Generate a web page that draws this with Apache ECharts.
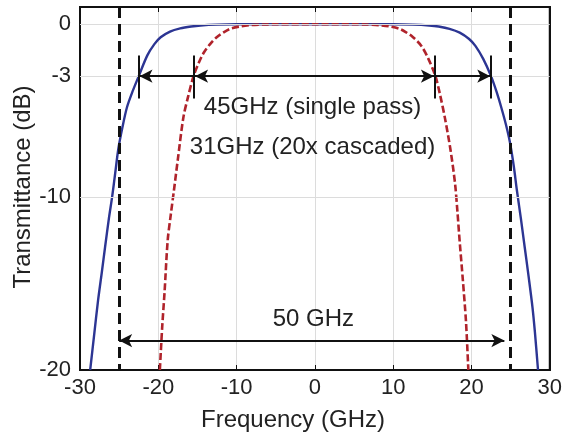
<!DOCTYPE html>
<html>
<head>
<meta charset="utf-8">
<script src="https://cdn.jsdelivr.net/npm/echarts@6/dist/echarts.min.js"></script>
<style>
html,body{margin:0;padding:0;background:#fff;}
#c{width:565px;height:436px;}
</style>
</head>
<body>
<div id="c"></div>
<script>
// ---- data ----
const xTicks = [-30, -20, -10, 0, 10, 20, 30];
const yTicks = [0, -3, -10, -20];
const yGrid = [0, -3, -10];

// single pass (blue, solid)
const blueX = [-28.7,-28.2,-27.7,-27.2,-26.8,-26.3,-25.9,-25.5,-25.1,-24.6,-24.0,-23.3,-22.5,-21.4,-20.5,-19.7,-18.5,-17.2,-15.8,-14.6,-12.5,-10.0,-5.0,0.0,5.0,10.0,12.5,14.6,15.8,17.2,18.5,19.7,20.5,21.5,22.5,23.2,23.8,24.4,24.9,25.4,25.8,26.3,26.8,27.3,27.8,28.1,28.5];
const blueY = [-20,-18.0,-16.0,-14.3,-12.9,-11.2,-10.0,-8.6,-7.2,-6.0,-4.8,-3.9,-3.0,-1.8,-1.15,-0.75,-0.42,-0.24,-0.13,-0.07,-0.02,0,0,0,0,0,-0.02,-0.07,-0.13,-0.26,-0.48,-0.85,-1.25,-2.0,-3.0,-3.9,-4.8,-5.8,-6.8,-8.2,-9.6,-11.2,-12.9,-14.6,-16.4,-17.8,-20];

// 20x cascaded (red, dashed)
const redX = [-19.8,-19.5,-19.2,-18.8,-18.4,-18.0,-17.5,-16.8,-16.2,-15.5,-14.8,-14.2,-13.3,-12.5,-11.6,-10.8,-9.5,-8.2,-6.5,-5.0,0,5.0,6.5,8.2,9.5,10.8,11.6,12.5,13.6,14.5,15.4,16.0,16.6,17.3,17.9,18.2,18.5,18.9,19.3,19.6];
const redY = [-20,-17.5,-15.5,-12.5,-11.0,-9.6,-7.8,-5.4,-4.2,-3.0,-2.2,-1.65,-1.1,-0.73,-0.45,-0.26,-0.12,-0.05,-0.01,0,0,0,-0.01,-0.05,-0.12,-0.26,-0.45,-0.73,-1.25,-2.0,-3.0,-4.1,-5.4,-7.2,-9.2,-10.8,-12.6,-14.8,-17.2,-20];

// annotation values
const edges50 = [-25, 25];          // dashed vertical lines (GHz)
const span50 = [-25, 24.2];         // 50 GHz arrow ends
const band45 = [-22.4, 22.4];       // single pass -3 dB width
const band31 = [-15.3, 15.2];       // cascaded -3 dB width
const bandTicks = [-22.5, -15.5, 15.3, 22.4];
const level3dB = -3;
const level50 = -18.3;
const texts = ['45GHz (single pass)', '31GHz (20x cascaded)', '50 GHz'];
const axisTitles = ['Frequency (GHz)', 'Transmittance (dB)'];

// ---- chart ----
const FONT = "'Liberation Sans', Arial, sans-serif";
const TXT = '#222';
const chart = echarts.init(document.getElementById('c'), null, {renderer: 'canvas'});

const blueData = blueX.map((x, i) => [x, blueY[i]]);
const redData = redX.map((x, i) => [x, redY[i]]);

const axLine = {show: true, onZero: false, lineStyle: {color: '#111', width: 2}};
const tick = {show: true, inside: true, length: 5, lineStyle: {color: '#111', width: 1}};

const option = {
  animation: false,
  backgroundColor: '#fff',
  grid: {left: 80, right: 15, top: 7, bottom: 66, show: true, borderColor: '#111', borderWidth: 2},
  xAxis: [
    {type: 'value', min: xTicks[0], max: xTicks[xTicks.length - 1], interval: 10, position: 'bottom',
     axisLine: axLine, axisTick: tick,
     axisLabel: {margin: 7, color: TXT, fontSize: 22, fontFamily: FONT},
     splitLine: {show: true, lineStyle: {color: '#dcdcdc', width: 1}}},
    {type: 'value', min: xTicks[0], max: xTicks[xTicks.length - 1], interval: 10, position: 'top',
     axisLine: axLine, axisTick: tick, axisLabel: {show: false}, splitLine: {show: false}}
  ],
  yAxis: [
    {type: 'value', min: -20, max: 1, position: 'left',
     axisLine: axLine, axisTick: Object.assign({customValues: yTicks}, tick),
     axisLabel: {customValues: yTicks, margin: 9, color: TXT, fontSize: 22, fontFamily: FONT},
     splitLine: {show: false}},
    {type: 'value', min: -20, max: 1, position: 'right',
     axisLine: axLine, axisTick: Object.assign({customValues: yTicks}, tick),
     axisLabel: {show: false}, splitLine: {show: false}}
  ],
  series: [
    {type: 'line', data: [], z: 1, silent: true,
     markLine: {silent: true, symbol: ['none', 'none'], label: {show: false},
       lineStyle: {color: '#dcdcdc', width: 1, type: 'solid'},
       emphasis: {disabled: true},
       data: yGrid.map(v => ({yAxis: v}))}},
    {type: 'line', name: 'single', data: blueData, showSymbol: false, smooth: 0.3, z: 3,
     lineStyle: {color: '#2c3593', width: 2.4}},
    {type: 'line', name: 'cascaded', data: redData, showSymbol: false, smooth: 0.3, z: 4,
     lineStyle: {color: '#b0232b', width: 2.6, type: [7, 3]}},
    {type: 'line', data: [], z: 5, silent: true,
     markLine: {silent: true, symbol: ['none', 'none'], label: {show: false},
       emphasis: {disabled: true},
       lineStyle: {color: '#111', width: 3, type: [11, 6]},
       data: edges50.map(x => [{coord: [x, 1]}, {coord: [x, -20]}])}},
    {type: 'line', data: [], z: 6, silent: true,
     markLine: {silent: true, symbol: ['arrow', 'arrow'], symbolSize: [10, 13], label: {show: false},
       emphasis: {disabled: true},
       lineStyle: {color: '#111', width: 2, type: 'solid'},
       data: [
         [{coord: [band45[0], level3dB]}, {coord: [band45[1], level3dB]}],
         [{coord: [band31[0], level3dB]}, {coord: [band31[1], level3dB]}],
         [{coord: [span50[0], level50]}, {coord: [span50[1], level50]}]
       ]}},
    {type: 'line', data: [], z: 6, silent: true,
     markLine: {silent: true, symbol: ['none', 'none'], label: {show: false},
       emphasis: {disabled: true},
       lineStyle: {color: '#111', width: 2, type: 'solid'},
       data: bandTicks.map(x => [{coord: [x, level3dB + 1.2]}, {coord: [x, level3dB - 1.3]}])}}
  ]
};
chart.setOption(option);

const p1 = chart.convertToPixel({gridIndex: 0}, [-0.3, -4.8]);
const p2 = chart.convertToPixel({gridIndex: 0}, [-0.3, -7.1]);
const p3 = chart.convertToPixel({gridIndex: 0}, [-0.2, -17.1]);
const tStyle = (t) => ({text: t, fill: TXT, font: '24px ' + FONT, align: 'center', verticalAlign: 'middle'});
chart.setOption({
  graphic: [
    {type: 'text', x: p1[0], y: p1[1], z: 10, style: tStyle(texts[0])},
    {type: 'text', x: p2[0], y: p2[1], z: 10, style: tStyle(texts[1])},
    {type: 'text', x: p3[0], y: p3[1], z: 10, style: tStyle(texts[2])},
    {type: 'text', x: 293, y: 420, z: 10, style: tStyle(axisTitles[0])},
    {type: 'text', x: 23, y: 187, rotation: Math.PI / 2, z: 10, style: tStyle(axisTitles[1])}
  ]
});
</script>
</body>
</html>
